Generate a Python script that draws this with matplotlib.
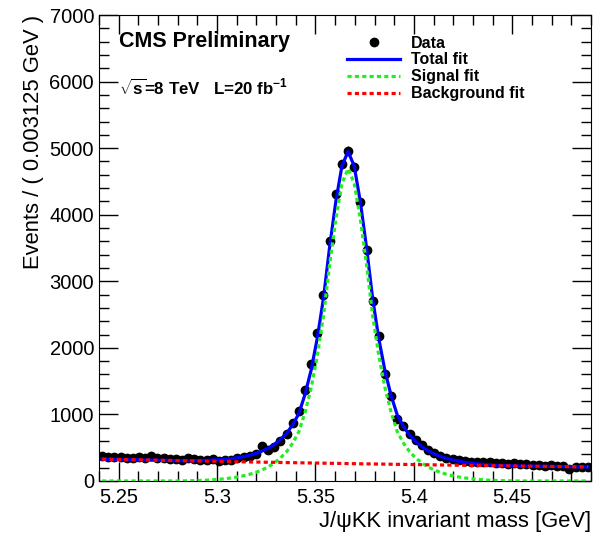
import numpy as np
import matplotlib
matplotlib.use("Agg")
import matplotlib.pyplot as plt
from matplotlib.lines import Line2D
from matplotlib.ticker import MultipleLocator

plt.rcParams['font.family'] = ['Liberation Sans', 'DejaVu Sans']
plt.rcParams['mathtext.fontset'] = 'custom'
plt.rcParams['mathtext.rm'] = 'Liberation Sans:bold'
plt.rcParams['mathtext.it'] = 'Liberation Sans:bold'
plt.rcParams['mathtext.bf'] = 'Liberation Sans:bold'

# binning of the J/psi KK mass histogram
x_lo, x_hi, n_bins = 5.24, 5.49, 80
edges = np.linspace(x_lo, x_hi, n_bins + 1)
centers = 0.5 * (edges[:-1] + edges[1:])
half_width = 0.5 * (edges[1] - edges[0])

# events per bin
counts = [370, 360, 365, 355, 350, 345, 360, 350, 370, 345,
          340, 335, 330, 320, 340, 325, 310, 320, 330, 300,
          310, 320, 345, 360, 380, 400, 520, 470, 510, 600,
          700, 870, 1050, 1370, 1760, 2220, 2790, 3600, 4310, 4760,
          4960, 4720, 4190, 3470, 2710, 2180, 1610, 1270, 930, 830,
          710, 610, 540, 470, 420, 380, 350, 330, 310, 300,
          290, 290, 280, 285, 270, 275, 260, 265, 250, 255,
          240, 245, 230, 240, 220, 230, 180, 215, 210, 215]

# fit components evaluated at the bin centres
signal_fit = [0, 0, 0, 0, 0, 0, 0, 0, 0, 0,
              0, 0, 0, 1, 3, 5, 8, 12, 18, 25,
              34, 45, 60, 78, 100, 130, 165, 210, 270, 345,
              440, 570, 740, 1030, 1400, 1880, 2480, 3250, 3930, 4470,
              4690, 4470, 3930, 3250, 2480, 1880, 1400, 1030, 740, 570,
              440, 345, 270, 210, 165, 130, 100, 78, 60, 45,
              34, 25, 18, 12, 8, 5, 3, 1, 0, 0,
              0, 0, 0, 0, 0, 0, 0, 0, 0, 0]

background_fit = [329, 327, 325, 323, 321, 319, 317, 316,
                  314, 312, 310, 308, 306, 304, 302, 301,
                  299, 297, 296, 294, 292, 291, 289, 287,
                  286, 284, 283, 281, 280, 278, 276, 275,
                  273, 272, 270, 269, 267, 266, 264, 263,
                  261, 260, 258, 257, 256, 254, 253, 251,
                  250, 249, 247, 246, 245, 243, 242, 241,
                  239, 238, 237, 236, 234, 233, 232, 231,
                  229, 228, 227, 226, 224, 223, 222, 221,
                  219, 218, 217, 216, 215, 213, 212, 211]

counts = np.array(counts, dtype=float)
sig = np.array(signal_fit, dtype=float)
bkg = np.array(background_fit, dtype=float)
total = sig + bkg

fig = plt.figure(figsize=(6.01, 5.34), dpi=100)
ax = fig.add_axes([0.1647, 0.0993, 0.8187, 0.8726])

dotted = (0, (1.3, 1.0))
ax.errorbar(centers, counts, yerr=np.sqrt(counts), xerr=half_width,
            fmt='o', color='black', ms=6.0, elinewidth=0.8, capsize=0, zorder=2)
ax.plot(centers, total, color='#0000ff', lw=2.3, zorder=3)
ax.plot(centers, sig, color='#22ee22', lw=2.3, ls=dotted, zorder=4)
ax.plot(centers, bkg, color='#ff0000', lw=2.3, ls=dotted, zorder=5)

ax.set_xlim(x_lo, x_hi)
ax.set_ylim(0, 7000)
ax.xaxis.set_major_locator(MultipleLocator(0.05))
ax.xaxis.set_minor_locator(MultipleLocator(0.01))
ax.yaxis.set_major_locator(MultipleLocator(1000))
ax.yaxis.set_minor_locator(MultipleLocator(200))
ax.tick_params(which='both', direction='in', top=True, right=True,
               labelsize=14.5, width=1)
ax.tick_params(which='major', length=14)
ax.tick_params(which='minor', length=7)
ax.tick_params(axis='x', pad=5)
ax.set_xticks([5.25, 5.3, 5.35, 5.4, 5.45])
ax.set_xticklabels(['5.25', '5.3', '5.35', '5.4', '5.45'])

ax.set_ylabel('Events / ( 0.003125 GeV )', fontsize=15.8, loc='top', labelpad=4)
ax.set_xlabel('J/\u03c8KK invariant mass [GeV]', fontsize=15.8, loc='right', labelpad=3)

ax.text(0.04, 0.943, 'CMS Preliminary', transform=ax.transAxes,
        fontsize=15.5, fontweight='bold', va='center')
ax.text(0.041, 0.843, r'$\sqrt{s}$=8 TeV   L=20 fb$^{-1}$', transform=ax.transAxes,
        fontsize=12.2, fontweight='bold', va='center')

handles = [
    Line2D([], [], marker='o', color='black', ls='none', ms=6.0),
    Line2D([], [], color='#0000ff', lw=2.3),
    Line2D([], [], color='#22ee22', lw=2.3, ls=dotted),
    Line2D([], [], color='#ff0000', lw=2.3, ls=dotted),
]
labels = ['Data', 'Total fit', 'Signal fit', 'Background fit']
ax.legend(handles, labels, loc='upper left', bbox_to_anchor=(0.505, 0.956),
          frameon=False, prop={'weight': 'bold', 'size': 11.5},
          handlelength=3.3, handletextpad=0.7, labelspacing=0.12,
          borderaxespad=0, borderpad=0)

fig.savefig('out.png', dpi=100)
